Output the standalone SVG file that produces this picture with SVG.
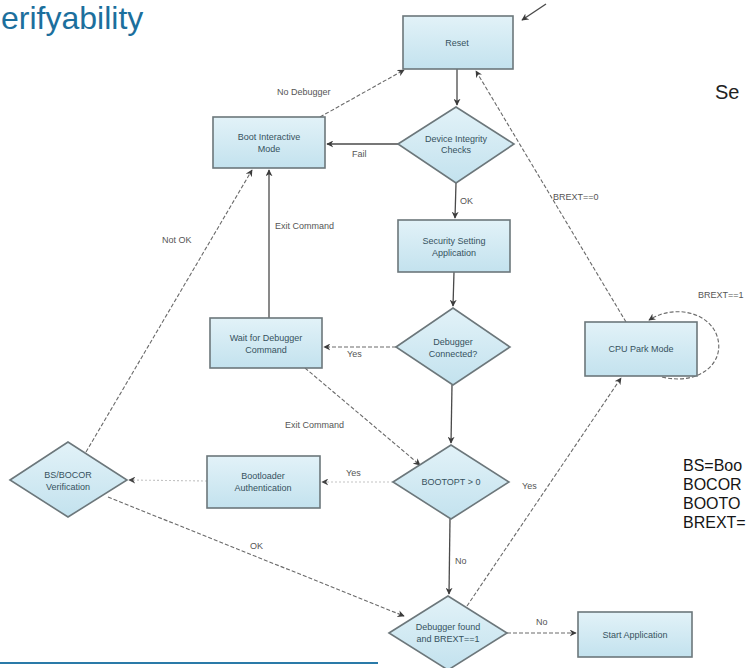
<svg xmlns="http://www.w3.org/2000/svg" width="746" height="668" viewBox="0 0 746 668">
<defs>
<linearGradient id="g" x1="0" y1="0" x2="0" y2="1">
<stop offset="0" stop-color="#e2f2f8"/>
<stop offset="1" stop-color="#c3e2ee"/>
</linearGradient>
<marker id="ah" viewBox="0 0 10 10" refX="9" refY="5" markerWidth="7" markerHeight="7" orient="auto-start-reverse" markerUnits="userSpaceOnUse">
<path d="M0,0 L10,5 L0,10 L3,5 Z" fill="#3c3c3c"/>
</marker>
<marker id="ahl" viewBox="0 0 10 10" refX="9" refY="5" markerWidth="7" markerHeight="7" orient="auto-start-reverse" markerUnits="userSpaceOnUse">
<path d="M0,0 L10,5 L0,10 L3,5 Z" fill="#444"/>
</marker>
<style>
.box{fill:url(#g);stroke:#6c777b;stroke-width:1.6}
.nt{font-family:"Liberation Sans",Arial,sans-serif;font-size:9px;fill:#36525e;text-anchor:middle}
.lb{font-family:"Liberation Sans",Arial,sans-serif;font-size:9px;fill:#555}
.solid{stroke:#4a4a4a;stroke-width:1.3;fill:none;marker-end:url(#ah)}
.dash{stroke:#6a6a6a;stroke-width:1.1;stroke-dasharray:4 2;fill:none;marker-end:url(#ah)}
.dot{stroke:#c4c4c4;stroke-width:1.1;stroke-dasharray:2 2;fill:none;marker-end:url(#ahl)}
.leg{font-family:"Liberation Sans",Arial,sans-serif;font-size:16px;fill:#151515}
</style>
</defs>
<rect width="746" height="668" fill="#ffffff"/>
<text x="1" y="29" font-family="Liberation Sans,Arial,sans-serif" font-size="32" fill="#1c6f9d">erifyability</text>
<text x="715" y="99" font-family="Liberation Sans,Arial,sans-serif" font-size="20" fill="#222">Se</text>
<g id="legend">
<text class="leg" x="683" y="471">BS=Boo</text>
<text class="leg" x="683" y="490">BOCOR</text>
<text class="leg" x="683" y="509">BOOTO</text>
<text class="leg" x="683" y="528">BREXT=</text>
</g>
<line x1="0" y1="663" x2="378" y2="663" stroke="#2a7aa8" stroke-width="2"/>

<g id="connectors">
<line class="solid" x1="546" y1="4" x2="522" y2="20"/>
<line class="solid" x1="457" y1="69" x2="457" y2="105"/>
<line class="solid" x1="398" y1="144" x2="327" y2="144"/>
<text class="lb" x="352" y="157">Fail</text>
<line class="solid" x1="456" y1="183" x2="455" y2="218"/>
<text class="lb" x="460" y="204">OK</text>
<line class="solid" x1="454" y1="272" x2="453" y2="306"/>
<line class="dash" x1="396" y1="347" x2="324" y2="347"/>
<text class="lb" x="347" y="357">Yes</text>
<line class="solid" x1="269" y1="318" x2="269" y2="170"/>
<text class="lb" x="275" y="229">Exit Command</text>
<line class="dash" x1="320" y1="117" x2="404" y2="70"/>
<text class="lb" x="277" y="95">No Debugger</text>
<line class="solid" x1="452" y1="385" x2="451" y2="443"/>
<line class="dash" x1="305" y1="368" x2="420" y2="465"/>
<text class="lb" x="285" y="428">Exit Command</text>
<line class="dot" x1="393" y1="482" x2="322" y2="482"/>
<text class="lb" x="346" y="476">Yes</text>
<line class="dot" x1="207" y1="481" x2="129" y2="480"/>
<line class="dash" x1="86" y1="452" x2="252" y2="170"/>
<text class="lb" x="162" y="243">Not OK</text>
<line class="dash" x1="108" y1="497" x2="404" y2="616"/>
<text class="lb" x="250" y="549">OK</text>
<line class="solid" x1="450" y1="519" x2="449" y2="594"/>
<text class="lb" x="455" y="564">No</text>
<line class="dash" x1="467" y1="606" x2="621" y2="378"/>
<text class="lb" x="522" y="489">Yes</text>
<line class="dash" x1="507" y1="633" x2="576" y2="633"/>
<text class="lb" x="536" y="625">No</text>
<line class="dash" x1="626" y1="322" x2="476" y2="71" stroke-dasharray="2 2"/>
<text class="lb" x="553" y="200">BREXT==0</text>
<path class="dash" d="M662,377 C700,386 726,362 717,336 C709,312 674,304 649,320"/>
<text class="lb" x="698" y="298">BREXT==1</text>
</g>

<g id="reset"><rect class="box" x="403" y="16" width="110" height="53"/><text class="nt" x="457" y="46">Reset</text></g>
<g id="boot-interactive"><rect class="box" x="213" y="117" width="112" height="51"/><text class="nt" x="269" y="140">Boot Interactive</text><text class="nt" x="269" y="152">Mode</text></g>
<g id="device-integrity"><polygon class="box" points="398,144 456,107 514,144 456,183"/><text class="nt" x="456" y="142">Device Integrity</text><text class="nt" x="456" y="153">Checks</text></g>
<g id="security-setting"><rect class="box" x="398" y="220" width="112" height="52"/><text class="nt" x="454" y="244">Security Setting</text><text class="nt" x="454" y="256">Application</text></g>
<g id="debugger-connected"><polygon class="box" points="396,347 453,308 510,347 453,385"/><text class="nt" x="453" y="345">Debugger</text><text class="nt" x="453" y="357">Connected?</text></g>
<g id="wait-debugger"><rect class="box" x="210" y="318" width="112" height="50"/><text class="nt" x="266" y="341">Wait for Debugger</text><text class="nt" x="266" y="353">Command</text></g>
<g id="cpu-park"><rect class="box" x="585" y="322" width="112" height="54"/><text class="nt" x="641" y="352">CPU Park Mode</text></g>
<g id="bootopt"><polygon class="box" points="393,482 451,445 509,482 451,519"/><text class="nt" x="451" y="485">BOOTOPT &gt; 0</text></g>
<g id="bootloader-auth"><rect class="box" x="207" y="456" width="113" height="52"/><text class="nt" x="263" y="479">Bootloader</text><text class="nt" x="263" y="491">Authentication</text></g>
<g id="bs-bocor"><polygon class="box" points="10,480 68,442 127,480 68,517"/><text class="nt" x="68" y="478">BS/BOCOR</text><text class="nt" x="68" y="490">Verification</text></g>
<g id="debugger-found"><polygon class="box" points="389,633 448,596 507,633 448,670"/><text class="nt" x="448" y="630">Debugger found</text><text class="nt" x="448" y="642">and BREXT==1</text></g>
<g id="start-app"><rect class="box" x="578" y="612" width="114" height="45"/><text class="nt" x="635" y="638">Start Application</text></g>
</svg>
